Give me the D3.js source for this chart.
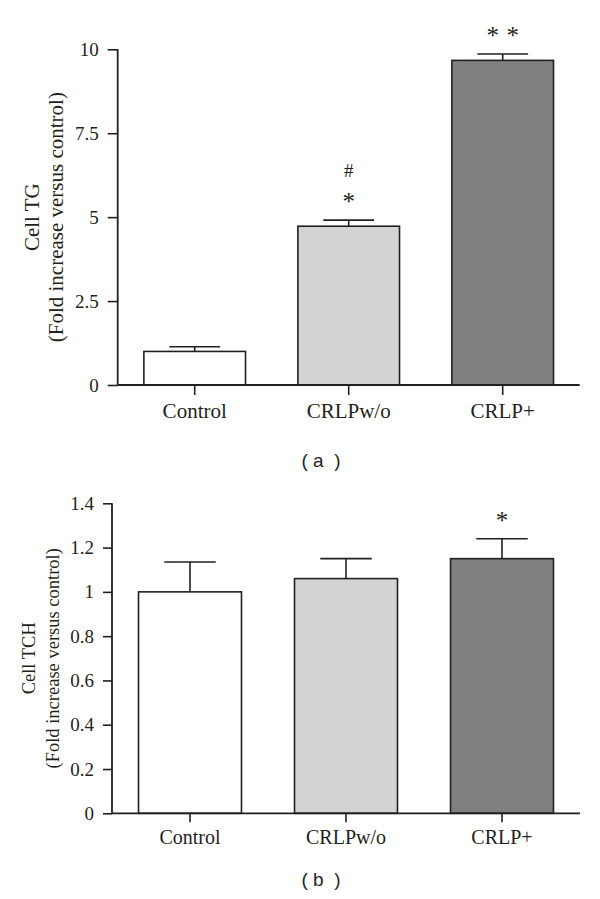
<!DOCTYPE html>
<html>
<head>
<meta charset="utf-8">
<script src="https://cdn.jsdelivr.net/npm/d3@7"></script>
<style>
  html, body { margin: 0; padding: 0; background: #fff; }
  svg { display: block; }
  text { fill: #231f20; }
</style>
</head>
<body>
<svg id="chart" width="600" height="899"></svg>
<script>
// ---- data ----
const groups = ["Control", "CRLPw/o", "CRLP+"];
const fills = ["#ffffff", "#d3d3d3", "#808080"];

const tgMean = [1.0, 4.73, 9.67];
const tgErr = [0.14, 0.18, 0.19];
const tgStars = ["", "*", "**"];
const tgHash = ["", "#", ""];
const tgTicks = [0, 2.5, 5, 7.5, 10];

const tchMean = [1.0, 1.06, 1.15];
const tchErr = [0.135, 0.09, 0.09];
const tchStars = ["", "", "*"];
const tchHash = ["", "", ""];
const tchTicks = [0, 0.2, 0.4, 0.6, 0.8, 1, 1.2, 1.4];

const svg = d3.select("#chart");
const ink = "#231f20";
const serif = "'Liberation Serif', 'Times New Roman', serif";
const sans = "'Liberation Sans', Arial, sans-serif";

function panel(cfg) {
  const x = d3.scaleBand().domain(groups)
    .range([cfg.left, cfg.right]).paddingInner(0.34).paddingOuter(0.17);
  const y = d3.scaleLinear().domain(cfg.domain).range([cfg.bottom, cfg.top]);
  const g = svg.append("g");

  const rows = groups.map((name, i) => ({
    name, mean: cfg.mean[i], err: cfg.err[i], fill: fills[i],
    stars: cfg.stars[i], hash: cfg.hash[i]
  }));

  // error bars
  const eb = g.append("g").attr("stroke", ink).attr("stroke-width", 1.6);
  rows.forEach(d => {
    const cx = x(d.name) + x.bandwidth() / 2;
    const half = x.bandwidth() / 4;
    eb.append("line").attr("x1", cx).attr("x2", cx)
      .attr("y1", y(d.mean)).attr("y2", y(d.mean + d.err));
    eb.append("line").attr("x1", cx - half).attr("x2", cx + half)
      .attr("y1", y(d.mean + d.err)).attr("y2", y(d.mean + d.err));
  });

  // bars
  g.append("g").selectAll("rect").data(rows).join("rect")
    .attr("x", d => x(d.name))
    .attr("width", x.bandwidth())
    .attr("y", d => y(d.mean))
    .attr("height", d => y(0) - y(d.mean))
    .attr("fill", d => d.fill)
    .attr("stroke", ink).attr("stroke-width", 1.6);

  // y axis
  const ya = g.append("g").attr("transform", `translate(${cfg.left},0)`)
    .call(d3.axisLeft(y).tickValues(cfg.ticks).tickFormat(d => String(d))
      .tickSize(cfg.tickLen).tickPadding(9));
  ya.attr("font-family", serif).attr("font-size", cfg.tickFont);
  ya.select(".domain").attr("stroke", ink).attr("stroke-width", 1.8)
    .attr("d", `M0,${cfg.top}V${cfg.bottom}`);
  ya.selectAll(".tick line").attr("stroke", ink).attr("stroke-width", 1.6);
  ya.selectAll(".tick text").attr("font-family", serif)
    .attr("font-size", cfg.tickFont).attr("fill", ink);

  // x axis
  const xa = g.append("g").attr("transform", `translate(0,${cfg.bottom})`)
    .call(d3.axisBottom(x).tickSize(cfg.tickLen).tickPadding(cfg.xPad));
  xa.attr("font-family", serif).attr("font-size", cfg.xFont);
  xa.select(".domain").attr("stroke", ink).attr("stroke-width", 1.8)
    .attr("d", `M${cfg.left},0H${cfg.right}`);
  xa.selectAll(".tick line").attr("stroke", ink).attr("stroke-width", 1.6);
  xa.selectAll(".tick text").attr("font-family", serif)
    .attr("font-size", cfg.xFont).attr("fill", ink);

  // significance marks
  rows.forEach(d => {
    const cx = x(d.name) + x.bandwidth() / 2;
    const top = y(d.mean + d.err);
    const chars = d.stars.split("");
    chars.forEach((c, k) => {
      g.append("text")
        .attr("x", cx + (k - (chars.length - 1) / 2) * 20)
        .attr("y", top - 22 + 12)
        .attr("text-anchor", "middle")
        .attr("font-family", serif).attr("font-size", 25)
        .text(c);
    });
    if (d.hash) {
      g.append("text").attr("x", cx).attr("y", top - 50 + 6.5)
        .attr("text-anchor", "middle")
        .attr("font-family", serif).attr("font-size", 19)
        .text(d.hash);
    }
  });

  // y title
  const mid = (cfg.top + cfg.bottom) / 2;
  g.append("text")
    .attr("transform", `translate(${cfg.t1x},${mid}) rotate(-90)`)
    .attr("text-anchor", "middle").attr("font-family", serif)
    .attr("font-size", cfg.titleFont).text(cfg.title1);
  g.append("text")
    .attr("transform", `translate(${cfg.t2x},${mid}) rotate(-90)`)
    .attr("text-anchor", "middle").attr("font-family", serif)
    .attr("font-size", cfg.titleFont).text(cfg.title2);

  // panel label
  g.append("text").attr("x", 321).attr("y", cfg.labelY)
    .attr("text-anchor", "middle").attr("font-family", sans)
    .attr("font-size", 19).attr("xml:space", "preserve")
    .style("white-space", "pre").text(cfg.label);
}

panel({
  left: 117.7, right: 579.7, top: 49.3, bottom: 385,
  domain: [0, 10], ticks: tgTicks, tickLen: 10, tickFont: 19,
  mean: tgMean, err: tgErr, stars: tgStars, hash: tgHash,
  xFont: 21, xPad: 8,
  title1: "Cell TG", title2: "(Fold increase versus control)",
  t1x: 39, t2x: 63, titleFont: 21,
  label: "( a  )", labelY: 467
});

panel({
  left: 112, right: 580, top: 503.3, bottom: 813.3,
  domain: [0, 1.4], ticks: tchTicks, tickLen: 9, tickFont: 19,
  mean: tchMean, err: tchErr, stars: tchStars, hash: tchHash,
  xFont: 20, xPad: 8,
  title1: "Cell TCH", title2: "(Fold increase versus control)",
  t1x: 35, t2x: 58.5, titleFont: 18.5,
  label: "( b  )", labelY: 886
});
</script>
</body>
</html>
